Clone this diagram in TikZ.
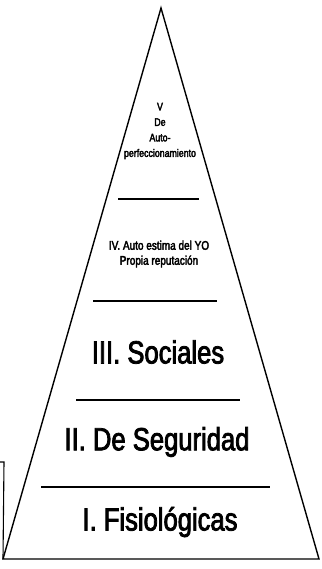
\documentclass[tikz,border=0pt]{standalone}
\usepackage{fontspec}
\newfontfamily\narrowfont[FakeStretch=0.8,FakeBold=2.5]{Liberation Sans}
\newfontfamily\narrowsmall[FakeStretch=0.8,FakeBold=3]{Liberation Sans}
\begin{document}
\begin{tikzpicture}[x=1pt,y=-1pt,
  outline/.style={line width=1.4pt,line join=miter},
  divider/.style={line width=1.1pt},
  bigtext/.style={font=\narrowfont\fontsize{32}{34}\selectfont,inner sep=0pt},
  midtext/.style={font=\narrowsmall\fontsize{12.5}{15}\selectfont,inner sep=0pt,align=center},
  smalltext/.style={font=\narrowsmall\fontsize{11}{15.5}\selectfont,inner sep=0pt,align=center}]
\useasboundingbox (0,0) rectangle (321,569);
\coordinate (apex) at (161,8);
\coordinate (bl) at (3,559);
\coordinate (br) at (319,559);
\draw[outline] (apex) -- (bl) -- (br) -- cycle;
% stray box edge at left
\coordinate (boxtl) at (0,462);
\coordinate (boxtr) at (4,462);
\draw[line width=1.1pt] (boxtl) -- (boxtr) -- (bl);
% dividers
\coordinate (d1a) at (118,199); \coordinate (d1b) at (199,199);
\coordinate (d2a) at (93,301);  \coordinate (d2b) at (217,301);
\coordinate (d3a) at (76,400);  \coordinate (d3b) at (240,400);
\coordinate (d4a) at (41,487);  \coordinate (d4b) at (270,487);
\draw[divider] (d1a) -- (d1b);
\draw[divider] (d2a) -- (d2b);
\draw[divider] (d3a) -- (d3b);
\draw[divider] (d4a) -- (d4b);
% texts
\node[smalltext] (lv) at (160,131) {V\\De\\Auto-\\perfeccionamiento};
\node[midtext] (liv) at (159,254) {IV. Auto estima del YO\\Propia reputación};
\node[bigtext] (liii) at (158,352) {III. Sociales};
\node[bigtext] (lii) at (157,442) {II. De Seguridad};
\node[bigtext] (li) at (160,522) {I. Fisiológicas};
\end{tikzpicture}
\end{document}
